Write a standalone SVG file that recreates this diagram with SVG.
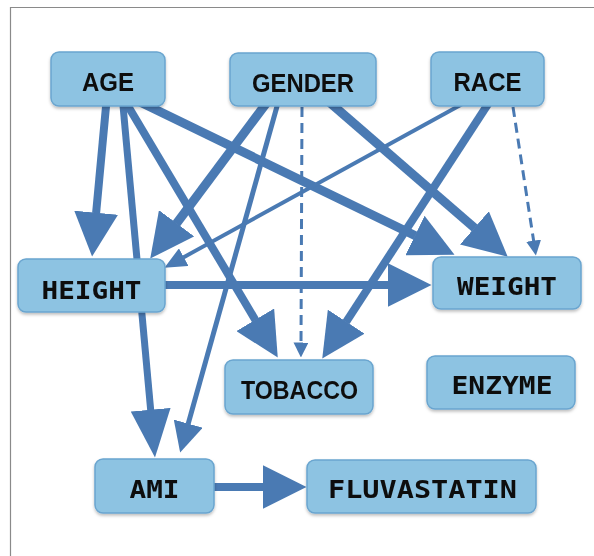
<svg xmlns="http://www.w3.org/2000/svg" width="594" height="556" viewBox="0 0 594 556">
<style>
.node rect{fill:#8dc3e2;stroke:#6aa5cf;stroke-width:1.5}
.sans{font-family:"Liberation Sans",Arial,sans-serif;font-weight:bold;font-size:25px;fill:#111;text-anchor:middle}
.mono{font-family:"DejaVu Sans Mono","Liberation Mono",monospace;font-weight:bold;font-size:25px;fill:#111;text-anchor:middle}
.edge{stroke:#4a7ab3;fill:none}
.dash{stroke:#4a7ab3;fill:none;stroke-width:3;stroke-dasharray:10 6}
</style>
<defs>
<filter id="sh" x="-10%" y="-10%" width="120%" height="130%"><feDropShadow dx="0" dy="2" stdDeviation="1.5" flood-color="#000" flood-opacity="0.25"/></filter>
<marker id="mBig" markerUnits="userSpaceOnUse" viewBox="0 0 44 44" markerWidth="44" markerHeight="44" refX="0.5" refY="22" orient="auto"><path d="M0,0 L44,22 L0,44 z" fill="#4a7ab3"/></marker>
<marker id="mTall" markerUnits="userSpaceOnUse" viewBox="0 0 48 40" markerWidth="48" markerHeight="40" refX="0.5" refY="20" orient="auto"><path d="M0,0 L48,20 L0,40 z" fill="#4a7ab3"/></marker>
<marker id="mMed" markerUnits="userSpaceOnUse" viewBox="0 0 30 30" markerWidth="30" markerHeight="30" refX="0.5" refY="15" orient="auto"><path d="M0,0 L30,15 L0,30 z" fill="#4a7ab3"/></marker>
<marker id="mSmall" markerUnits="userSpaceOnUse" viewBox="0 0 22 20" markerWidth="22" markerHeight="20" refX="0.5" refY="10" orient="auto"><path d="M0,0 L22,10 L0,20 z" fill="#4a7ab3"/></marker>
<marker id="mDash" markerUnits="userSpaceOnUse" viewBox="0 0 15 15" markerWidth="15" markerHeight="15" refX="0.5" refY="7.5" orient="auto"><path d="M0,0 L15,7.5 L0,15 z" fill="#4a7ab3"/></marker>
</defs>
<rect width="594" height="556" fill="#fff"/>
<path d="M10.5,556 L10.5,7.5 L594,7.5" fill="none" stroke="#8a8a8a" stroke-width="1.2"/>
<g id="connectors">
<path class="edge" stroke-width="8" d="M106.6,100 L96.1,213.2" marker-end="url(#mBig)"/>
<path class="edge" stroke-width="7" d="M122.5,100 L150.7,410.2" marker-end="url(#mTall)"/>
<path class="edge" stroke-width="8" d="M125,101 L255.5,320.2" marker-end="url(#mBig)"/>
<path class="edge" stroke-width="9" d="M140,102 L415.4,235.8" marker-end="url(#mBig)"/>
<path class="edge" stroke-width="9" d="M268,101 L176.3,223.7" marker-end="url(#mBig)"/>
<path class="edge" stroke-width="5" d="M278.5,101 L188.1,424.1" marker-end="url(#mMed)"/>
<path class="dash" d="M302,107 L301,343" marker-end="url(#mDash)"/>
<path class="edge" stroke-width="9" d="M328,101 L474.8,228.2" marker-end="url(#mBig)"/>
<path class="edge" stroke-width="4" d="M466,102 L183.3,257.4" marker-end="url(#mSmall)"/>
<path class="edge" stroke-width="8" d="M490,101 L346,322.1" marker-end="url(#mBig)"/>
<path class="dash" d="M513,107 L533.7,241.2" marker-end="url(#mDash)"/>
<path class="edge" stroke-width="8" d="M160,285 L388,285" marker-end="url(#mBig)"/>
<path class="edge" stroke-width="8" d="M210,487 L263,487" marker-end="url(#mBig)"/>
</g>
<g id="node-age" class="node" filter="url(#sh)"><rect x="51" y="52" width="114" height="54" rx="8"/><text class="sans" x="108" y="91" textLength="52" lengthAdjust="spacingAndGlyphs">AGE</text></g>
<g id="node-gender" class="node" filter="url(#sh)"><rect x="230" y="53" width="146" height="53" rx="8"/><text class="sans" x="303" y="92" textLength="102" lengthAdjust="spacingAndGlyphs">GENDER</text></g>
<g id="node-race" class="node" filter="url(#sh)"><rect x="431" y="52" width="113" height="54" rx="8"/><text class="sans" x="487.5" y="91" textLength="68" lengthAdjust="spacingAndGlyphs">RACE</text></g>
<g id="node-height" class="node" filter="url(#sh)"><rect x="18" y="259" width="147" height="53" rx="8"/><text class="mono" x="91.5" y="299" textLength="100" lengthAdjust="spacingAndGlyphs">HEIGHT</text></g>
<g id="node-weight" class="node" filter="url(#sh)"><rect x="433" y="257" width="148" height="52" rx="8"/><text class="mono" x="507" y="295" textLength="100" lengthAdjust="spacingAndGlyphs">WEIGHT</text></g>
<g id="node-tobacco" class="node" filter="url(#sh)"><rect x="225" y="360" width="148" height="54" rx="8"/><text class="sans" x="299.5" y="399" textLength="117" lengthAdjust="spacingAndGlyphs">TOBACCO</text></g>
<g id="node-enzyme" class="node" filter="url(#sh)"><rect x="427" y="356" width="148" height="53" rx="8"/><text class="mono" x="502" y="394" textLength="101" lengthAdjust="spacingAndGlyphs">ENZYME</text></g>
<g id="node-ami" class="node" filter="url(#sh)"><rect x="95" y="459" width="119" height="54" rx="8"/><text class="mono" x="154.5" y="498" textLength="50" lengthAdjust="spacingAndGlyphs">AMI</text></g>
<g id="node-fluvastatin" class="node" filter="url(#sh)"><rect x="307" y="460" width="229" height="53" rx="8"/><text class="mono" x="422.5" y="498" textLength="189" lengthAdjust="spacingAndGlyphs">FLUVASTATIN</text></g>
</svg>
